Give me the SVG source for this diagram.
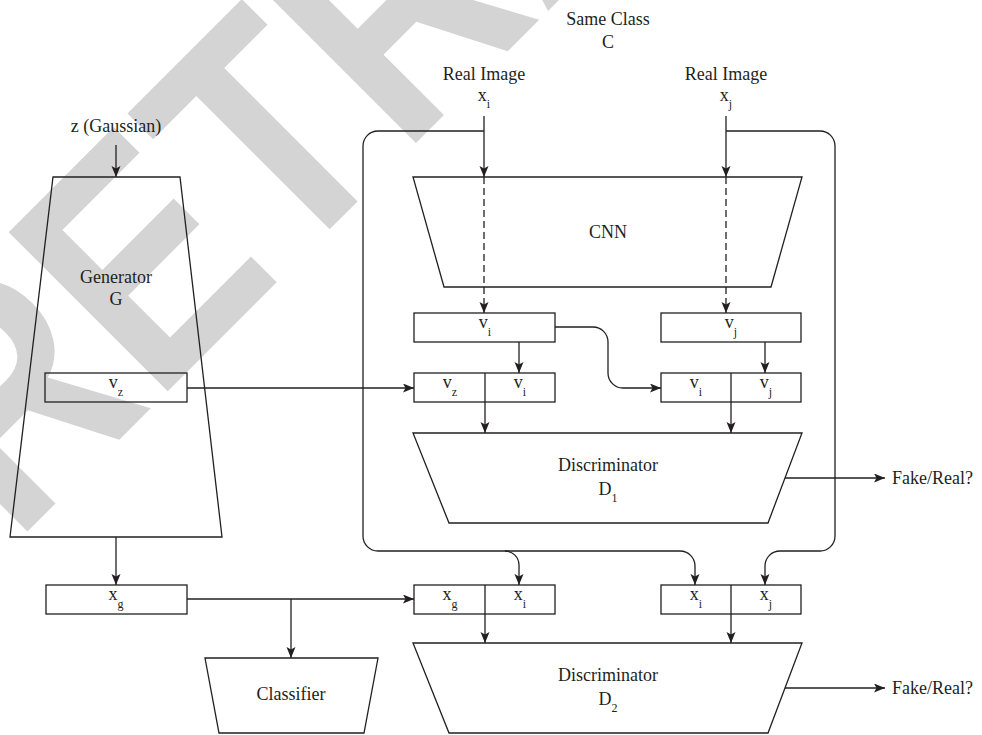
<svg xmlns="http://www.w3.org/2000/svg" width="982" height="735" viewBox="0 0 982 735">
<defs>
<style>
.ln{stroke:#231f20;stroke-width:1.3;fill:none}
.bx{stroke:#231f20;stroke-width:1.3;fill:none}
.t{font-family:"Liberation Serif","Times New Roman",serif;font-size:18px;fill:#231f20;text-anchor:middle}
.st{font-family:"Liberation Serif","Times New Roman",serif;font-size:18px;fill:#231f20;text-anchor:start}
.sb{font-size:12px}
.wm{font-family:"Liberation Sans",Arial,sans-serif;font-weight:bold;font-size:327px;fill:#d4d4d4}
.dash{stroke-dasharray:7,4}
</style>
<marker id="ah" markerUnits="userSpaceOnUse" markerWidth="12" markerHeight="10" refX="11" refY="4.5" orient="auto">
<path d="M0,0 L11,4.5 L0,9 L2.5,4.5 Z" fill="#231f20"/>
</marker>
</defs>
<rect width="982" height="735" fill="#ffffff"/>
<g id="watermark">
<text class="wm" transform="translate(14.5,544.5) rotate(-45) scale(0.84,1)">RETRACTED</text>
</g>
<g id="connectors">
<line class="ln" x1="116" y1="145" x2="116" y2="177" marker-end="url(#ah)"/>
<line class="ln" x1="484" y1="116" x2="484" y2="177" marker-end="url(#ah)"/>
<line class="ln" x1="726" y1="116" x2="726" y2="177" marker-end="url(#ah)"/>
<line class="ln dash" x1="484" y1="177" x2="484" y2="313" marker-end="url(#ah)"/>
<line class="ln dash" x1="726" y1="177" x2="726" y2="313" marker-end="url(#ah)"/>
<line class="ln" x1="519" y1="342" x2="519" y2="373" marker-end="url(#ah)"/>
<line class="ln" x1="765" y1="342" x2="765" y2="373" marker-end="url(#ah)"/>
<line class="ln" x1="187" y1="388" x2="414" y2="388" marker-end="url(#ah)"/>
<path class="ln" d="M555,327 H593 A15,15 0 0 1 608,342 V373 A15,15 0 0 0 623,388 H661" marker-end="url(#ah)"/>
<line class="ln" x1="485" y1="402" x2="485" y2="433" marker-end="url(#ah)"/>
<line class="ln" x1="731" y1="402" x2="731" y2="433" marker-end="url(#ah)"/>
<line class="ln" x1="785" y1="478" x2="885" y2="478" marker-end="url(#ah)"/>
<path class="ln" d="M484,131 H378 A15,15 0 0 0 363,146 V536 A15,15 0 0 0 378,551 H680 A15,15 0 0 1 695,566 V585" marker-end="url(#ah)"/>
<path class="ln" d="M505,551 A14,14 0 0 1 519,565 V585" marker-end="url(#ah)"/>
<path class="ln" d="M726,131 H820 A15,15 0 0 1 835,146 V536 A15,15 0 0 1 820,551 H780 A15,15 0 0 0 765,566 V585" marker-end="url(#ah)"/>
<line class="ln" x1="116" y1="537" x2="116" y2="585" marker-end="url(#ah)"/>
<line class="ln" x1="187" y1="599" x2="414" y2="599" marker-end="url(#ah)"/>
<line class="ln" x1="291" y1="599" x2="291" y2="658" marker-end="url(#ah)"/>
<line class="ln" x1="485" y1="614" x2="485" y2="643" marker-end="url(#ah)"/>
<line class="ln" x1="731" y1="614" x2="731" y2="643" marker-end="url(#ah)"/>
<line class="ln" x1="785" y1="688" x2="885" y2="688" marker-end="url(#ah)"/>
</g>
<g id="labels-top">
<text class="t" x="608" y="25">Same Class</text>
<text class="t" x="608" y="48">C</text>
<text class="t" x="484" y="80">Real Image</text>
<text class="t" x="726" y="80">Real Image</text>
<text class="t" x="484" y="101">x<tspan class="sb" dy="7">i</tspan></text>
<text class="t" x="726" y="101">x<tspan class="sb" dy="7">j</tspan></text>
<text class="t" x="116" y="132">z (Gaussian)</text>
</g>
<g id="generator">
<polygon class="bx" points="53,177 180,177 222,537 10,537"/>
<text class="t" x="116" y="283">Generator</text>
<text class="t" x="116" y="305">G</text>
</g>
<g id="vz">
<rect class="bx" x="45" y="373" width="142" height="29"/>
<text class="t" x="116" y="388">v<tspan class="sb" dy="8">z</tspan></text>
</g>
<g id="cnn">
<polygon class="bx" points="413,177 802,177 771,287 444,287"/>
<text class="t" x="608" y="238">CNN</text>
</g>
<g id="vi">
<rect class="bx" x="414" y="313" width="141" height="29"/>
<text class="t" x="485" y="328">v<tspan class="sb" dy="8">i</tspan></text>
</g>
<g id="vj">
<rect class="bx" x="661" y="313" width="140" height="29"/>
<text class="t" x="731" y="328">v<tspan class="sb" dy="8">j</tspan></text>
</g>
<g id="vz-vi">
<rect class="bx" x="414" y="373" width="141" height="29"/>
<line class="ln" x1="485" y1="373" x2="485" y2="402"/>
<text class="t" x="450" y="388">v<tspan class="sb" dy="8">z</tspan></text>
<text class="t" x="520" y="388">v<tspan class="sb" dy="8">i</tspan></text>
</g>
<g id="vi-vj">
<rect class="bx" x="661" y="373" width="140" height="29"/>
<line class="ln" x1="731" y1="373" x2="731" y2="402"/>
<text class="t" x="696" y="388">v<tspan class="sb" dy="8">i</tspan></text>
<text class="t" x="766" y="388">v<tspan class="sb" dy="8">j</tspan></text>
</g>
<g id="d1">
<polygon class="bx" points="413,433 802,433 768,523 449,523"/>
<text class="t" x="608" y="471">Discriminator</text>
<text class="t" x="608" y="495">D<tspan class="sb" dy="7">1</tspan></text>
</g>
<g id="fake-real-1">
<text class="st" x="892" y="484">Fake/Real?</text>
</g>
<g id="xg">
<rect class="bx" x="46" y="585" width="141" height="29"/>
<text class="t" x="116" y="600">x<tspan class="sb" dy="8">g</tspan></text>
</g>
<g id="classifier">
<polygon class="bx" points="205,658 378,658 364,733 219,733"/>
<text class="t" x="291" y="700">Classifier</text>
</g>
<g id="xg-xi">
<rect class="bx" x="414" y="585" width="141" height="29"/>
<line class="ln" x1="485" y1="585" x2="485" y2="614"/>
<text class="t" x="450" y="600">x<tspan class="sb" dy="8">g</tspan></text>
<text class="t" x="520" y="600">x<tspan class="sb" dy="8">i</tspan></text>
</g>
<g id="xi-xj">
<rect class="bx" x="661" y="585" width="140" height="29"/>
<line class="ln" x1="731" y1="585" x2="731" y2="614"/>
<text class="t" x="696" y="600">x<tspan class="sb" dy="8">i</tspan></text>
<text class="t" x="766" y="600">x<tspan class="sb" dy="8">j</tspan></text>
</g>
<g id="d2">
<polygon class="bx" points="413,643 802,643 768,733 449,733"/>
<text class="t" x="608" y="681">Discriminator</text>
<text class="t" x="608" y="705">D<tspan class="sb" dy="7">2</tspan></text>
</g>
<g id="fake-real-2">
<text class="st" x="892" y="694">Fake/Real?</text>
</g>
</svg>
